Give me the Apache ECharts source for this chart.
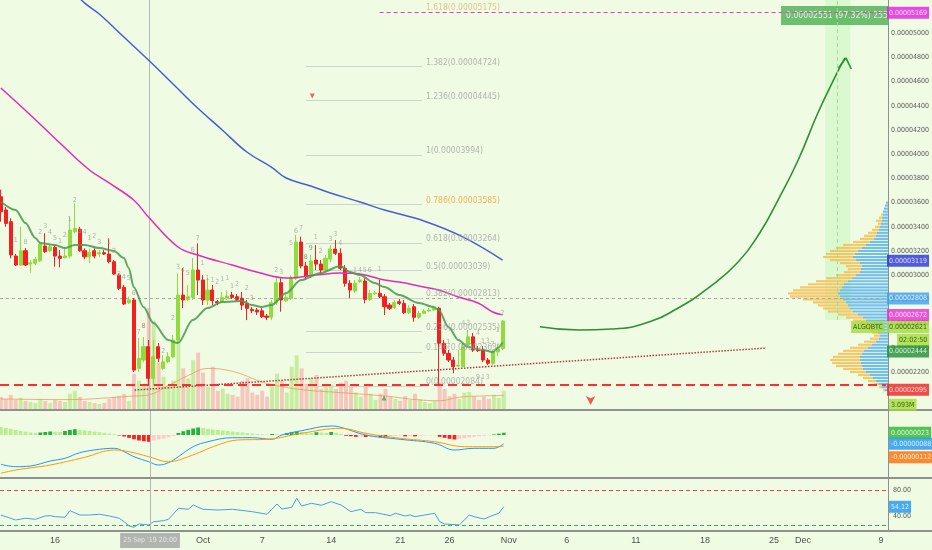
<!DOCTYPE html>
<html>
<head>
<meta charset="utf-8">
<script src="https://cdn.jsdelivr.net/npm/echarts@6.0.0/dist/echarts.min.js"></script>
<style>
html,body{margin:0;padding:0;background:#f0fbe3;}
#chart{width:932px;height:550px;}
</style>
</head>
<body>
<div id="chart"></div>
<script>
const BG = '#f0fbe3';
const FN = "'Liberation Sans Narrow','Arial Narrow','DejaVu Sans Condensed',sans-serif";
const FS = "'Liberation Sans',Arial,sans-serif";

// ---- 12h candles of ALGOBTC (prices in satoshi = 1e-8 BTC), bar 0 = 10 Sep 2019 12:00 ----
const candleOpen = [3648,3539,3442,3158,3084,3202,3092,3098,3119,3241,3202,3230,3158,3144,3158,3359,3379,3202,3152,3202,3175,3186,3175,3111,3001,2900,2772,2795,2230,2299,2409,2148,2409,2230,2285,2326,2464,2836,2800,2817,3043,2960,2795,2877,2781,2781,2809,2836,2822,2809,2767,2718,2712,2706,2662,2652,2772,2938,2789,2809,2974,3274,3076,3001,3125,3092,3043,3133,3216,3181,3057,2933,2869,2946,2952,2800,2847,2850,2822,2753,2734,2781,2767,2690,2739,2652,2685,2704,2712,2726,2437,2354,2299,2249,2243,2423,2491,2387,2387,2299,2272,2365,2395];
const candleClose = [3524,3428,3167,3084,3202,3084,3103,3131,3257,3194,3235,3158,3139,3158,3373,3387,3202,3152,3189,3158,3186,3175,3111,3010,2891,2762,2795,2216,2313,2409,2148,2326,2313,2285,2326,2464,2836,2795,2822,3043,2960,2795,2877,2789,2772,2817,2828,2817,2800,2753,2726,2706,2696,2657,2652,2772,2938,2795,2817,2982,3274,3076,2987,3117,3092,3043,3139,3216,3181,3057,2933,2877,2933,2960,2800,2850,2853,2822,2739,2726,2772,2767,2690,2726,2652,2685,2704,2712,2726,2437,2354,2299,2243,2257,2409,2491,2381,2376,2299,2272,2367,2387,2621];
const candleLow = [3442,3400,3139,3076,3076,3076,3020,3084,3109,3183,3191,3070,3065,3139,3139,3346,3194,3131,3098,3139,3152,3167,3098,3001,2877,2753,2762,2200,2202,2282,2090,2088,2282,2216,2274,2315,2439,2729,2786,2795,2836,2753,2753,2753,2753,2770,2795,2803,2778,2712,2629,2687,2671,2646,2629,2629,2753,2698,2778,2795,2960,3057,2960,2976,3043,3001,3026,3109,3167,3043,2905,2809,2853,2935,2767,2786,2836,2811,2671,2712,2720,2753,2679,2679,2615,2638,2679,2696,2704,2084,2332,2282,2189,2241,2241,2406,2365,2365,2282,2257,2257,2332,2381];
const candleHigh = [3704,3563,3470,3175,3400,3224,3125,3150,3276,3346,3249,3249,3208,3235,3483,3594,3400,3222,3222,3222,3208,3208,3305,3125,3015,2919,2822,2811,2481,2489,2464,2464,2439,2340,2365,2505,3015,3059,2919,3142,3263,3001,2976,2919,2795,2861,2877,2861,2844,2861,2795,2737,2729,2729,2679,2795,2987,2976,2844,3001,3332,3318,3109,3167,3249,3125,3167,3249,3290,3222,3084,2960,2960,2985,2976,2877,2869,2960,2844,2770,2795,2803,2795,2753,2762,2704,2720,2729,2745,2739,2464,2381,2324,2381,2439,2547,2522,2414,2414,2315,2381,2431,2629];
// volume in millions
const volumeM = [2.06,1.72,2.41,1.55,1.89,1.38,1.2,1.03,1.72,1.38,1.03,1.55,1.38,1.2,2.58,3.1,2.06,1.38,1.2,1.03,0.86,1.03,1.72,2.06,2.24,2.58,1.38,6.0,4.8,4.3,17.2,15.0,7.9,5.5,4.1,4.8,11.7,6.9,5.2,8.3,9.6,6.2,3.8,7.2,3.1,3.4,2.6,2.4,2.1,4.8,5.2,2.8,2.4,3.1,2.1,3.8,6.0,4.8,2.8,7.2,9.1,6.9,4.3,5.2,5.8,3.4,3.8,4.1,3.4,4.5,4.8,3.8,2.8,2.1,4.1,2.6,1.55,2.6,3.4,2.1,1.7,1.4,2.2,1.55,2.6,1.7,1.2,1.0,1.4,4.5,3.4,2.2,2.6,1.7,2.8,2.9,2.2,1.55,2.1,1.7,2.4,1.9,3.093];
const volumeMA = [[0,1.7],[13,1.6],[27,2.2],[30,2.4],[34,4.0],[38,5.7],[42,6.9],[47,6.4],[53,4.6],[57,3.8],[62,3.2],[67,2.9],[78,2.2],[84,1.6],[89,1.4],[93,2.0],[97,2.2],[102,2.3]];

// moving averages: [bar, price]
const blueMA = [[14,5373],[17,5250],[20,5158],[25,4968],[30,4778],[35,4580],[40,4381],[45,4200],[50,4018],[55,3894],[58,3803],[63,3737],[67,3679],[73,3605],[78,3538],[86,3448],[94,3315],[102,3125]];
const magentaMA = [[0,4547],[6,4324],[12,4092],[18,3869],[22,3762],[27,3621],[30,3481],[36,3233],[40,3167],[47,3084],[52,3026],[58,2976],[64,3001],[69,3018],[73,3010],[78,2960],[81,2943],[86,2902],[89,2877],[93,2820],[97,2770],[100,2696],[102,2672]];
const greenEMA = [[0,3607],[3,3539],[5,3431],[7,3307],[8,3266],[11,3249],[13,3224],[15,3249],[17,3249],[20,3224],[23,3200],[25,3142],[26,3059],[27,2902],[29,2737],[31,2605],[34,2464],[36,2439],[39,2629],[42,2729],[45,2778],[49,2786],[51,2753],[53,2737],[55,2753],[58,2853],[61,2960],[65,3018],[69,3076],[71,3026],[73,3001],[76,2935],[78,2902],[81,2836],[85,2770],[88,2737],[89,2712],[91,2572],[93,2464],[95,2406],[98,2381],[100,2365],[101,2398],[102,2444]];

// sequential counter digits printed around the candles: bar, price, digit
const countBar   = [0,3,5,8,9,10,11,12,13,14,15,16,17,18,19,20,22,23,24,25,26,27,28,29,33,35,36,37,38,39,40,41,42,43,44,45,46,47,48,50,51,56,57,59,60,61,62,63,64,65,67,68,69,72,73,74,75,77,91,94,95,97,98,99,100,101,102,97,98,99];
const countPrice = [3687,3291,3274,3357,3406,3357,3307,3282,3332,3464,3621,3365,3357,3307,3324,3274,3274,3200,3010,2985,2977,2853,2530,2580,2373,2646,3067,3043,3018,3208,3307,3101,2977,2960,2943,2968,2977,2910,2927,2894,2811,3043,3026,3266,3365,3390,3150,3224,3315,3200,3299,3340,3266,3043,3043,3043,3043,3051,2448,2605,2605,2522,2456,2456,2431,2547,2687,2158,2158,2158];
const countText  = ['1','1','8','2','3','4','5','1','2','1','2','3','4','1','2','3','1','2','3','4','5','6','7','8','2','2','3','4','5','6','7','1','1','1','2','1','1','1','2','2','3','2','3','5','6','7','8','9','1','2','3','3','4','1','4','5','6','1','1','4','3','4','1','3','2','1','2','9','1','3'];
const countColor = k => (countText[k] === '8' && countBar[k] === 29) ? '#e04848' : ((countBar[k] === 62 || countBar[k] === 63) ? '#3a9e48' : '#a0a0a0');

// MACD (satoshi)
const macdHist = [80,72,62,50,40,32,25,20,25,30,35,33,30,40,50,58,50,45,40,34,28,22,15,8,-5,-15,-28,-42,-55,-62,-68,-55,-45,-35,-22,-10,20,38,52,65,75,70,62,56,50,45,40,35,30,25,20,15,10,6,3,10,8,5,18,28,35,30,25,22,28,24,20,30,22,12,-8,-12,-18,-15,-20,-18,-16,-22,-25,-15,-10,-6,-14,-10,-14,-8,-5,-4,-3,-18,-28,-38,-45,-38,-30,-22,-18,-12,-8,-5,6,14,23];
const macdLine = [[0,-293],[3,-317],[6,-310],[10,-260],[13,-233],[16,-177],[20,-143],[23,-133],[25,-167],[27,-217],[30,-267],[32,-300],[34,-277],[36,-217],[39,-117],[42,-67],[47,-27],[51,-27],[55,-43],[57,0],[61,43],[67,90],[69,77],[74,0],[81,-43],[88,-83],[92,-150],[96,-133],[100,-133],[102,-88]];
const signalLine = [[0,-383],[3,-350],[10,-300],[17,-223],[23,-150],[26,-167],[30,-217],[34,-267],[38,-217],[44,-100],[48,-50],[54,-43],[61,17],[69,67],[74,17],[81,-33],[88,-67],[94,-117],[101,-117],[102,-112]];
// RSI
const rsiLine = [[0,41.5],[3,33.8],[5,36.5],[7,34.9],[9,40],[10,40.5],[11,38.9],[13,38],[14,48.2],[16,41.5],[18,41.5],[20,42.6],[22,40],[24,36.5],[25,31.2],[26,24.6],[27,22.6],[28,27.7],[30,26.2],[31,31.2],[33,32.8],[34,34.9],[36,51.8],[38,50.3],[39,56.9],[41,50.3],[44,49.2],[47,50.3],[51,46.6],[54,42.6],[56,58.5],[57,50.8],[59,53.4],[60,67.2],[61,55.4],[63,59.5],[65,56.5],[67,62],[69,56.9],[71,46.6],[73,50.3],[74,45.1],[76,45.1],[79,40.5],[80,44.2],[82,40],[83,41.5],[84,38.9],[86,41.5],[88,44.2],[89,31.2],[90,27.7],[93,26.2],[95,41.5],[96,38.9],[98,35.4],[100,41.5],[101,44.2],[102,54.12]];

// axis ticks
const priceTicks = [2200,2400,2600,2800,3000,3200,3400,3600,3800,4000,4200,4400,4600,4800,5000];
const rsiTicks = [40,80];
const rsiBands = [80,25];
const xTickPos = [11,41,53,67,81,91,103,114.8,128.8,142.8,156.8,162.7,178.5];
const xTickText = ['16','Oct','7','14','21','26','Nov','6','11','18','25','Dec','9'];

// fibonacci retracement
const fibLevels = ['1.618','1.382','1.236','1','0.786','0.618','0.5','0.382','0.236','0.146','0'];
const fibPrices = [5175,4724,4445,3994,3585,3264,3039,2813,2535,2363,2084];
const fibFrom = 62, fibTo = 85.6, fibLabelAt = 86.4;

// volume profile (bins from profileBase, step profileStep)
const profileBase = 2050, profileStep = 25;
const profileUp = [3,6,9,12,15,18,22,25,26,27,28,28,26,24,20,16,12,9,8,10,12,15,18,22,25,30,35,38,40,42,45,48,50,48,46,44,40,36,32,28,27,26,28,32,35,33,30,26,22,18,14,12,11,9,8,7,6,6,5,5,4,3,2];
const profileDown = [2,3,5,8,10,12,16,20,26,29,30,27,24,21,18,14,12,9,6,6,8,10,12,13,17,20,25,27,30,33,40,50,50,47,42,36,32,26,20,16,13,16,20,26,30,29,28,26,23,17,14,12,9,7,5,3,6,3,2,0,0,0,0];

// drawings
const supportPrice = 2095, targetPrice = 5169, crossPrice = 2808;
const targetFrom = 77;
const crossIndex = 30.25, crossLabel = "25 Sep '19 20:00";
const trendLine = [[27.2,2051],[155.6,2398]];
const arrowPath = [[109.6,2574],[117.5,2547],[124.2,2555],[131.1,2605],[137.7,2729],[143.8,2894],[149.9,3109],[154.4,3357],[158,3621],[162.1,3952],[166.1,4340],[169.6,4638],[171.6,4795]];
const arrowHead = [[170.3,4712],[171.8,4795],[172.9,4704]];
const bandFrom = 167.6, bandTo = 172.7, bandBottom = 2629, bandCenter = 170.1;
const projectionText = '0.00002551 (97.32%) 2551';
const projectionAnchor = [158.6, 5146];
const markerDown = [63.3, 4481], markerUp = [77.9, 1985], markerArrow = [119.9, 1927];

// last values
const lastPrice = 2621, blueLast = 3119, magentaLast = 2672, emaLast = 2444;
const macdTags = [23, -88, -112];
const rsiLast = 54.12, volLast = 3.093;
const symbolName = 'ALGOBTC', countdown = '02:02:50';

// axis extents (layout of the TradingView panes)
const X_MIN = -0.18, X_MAX = 179.94;
const P_MIN = 1886, P_MAX = 5274;
const V_MAX = 18.7;
const M_MIN = -430, M_MAX = 240;
const R_MIN = 16.9, R_MAX = 96.9;

const fmtP = v => (v / 1e8).toFixed(8);
const bars = candleOpen.map((o, i) => [i, o, candleClose[i], candleLow[i], candleHigh[i]]);
const isUp = i => candleClose[i] >= candleOpen[i];

function tag(x, y, text, bg, fg, opts) {
  opts = opts || {};
  return {
    value: [x, y],
    label: {
      show: true, position: opts.pos || 'right', distance: opts.dist != null ? opts.dist : 1,
      formatter: text, backgroundColor: bg, color: fg, fontSize: opts.fs || 7,
      fontFamily: FN, padding: opts.pad || [2, 2, 1, 2], lineHeight: opts.lh || 9,
      offset: [0, opts.dy || 0]
    }
  };
}
const tagSeries = (xi, yi, data, z) => ({
  type: 'scatter', xAxisIndex: xi, yAxisIndex: yi, symbolSize: 0.1, silent: true,
  itemStyle: { color: 'transparent' }, z: z || 10, data
});

const hLine = (x1, x2, y, style) => [{ coord: [x1, y], lineStyle: style }, { coord: [x2, y] }];

const mainMarkLines = [
  hLine(X_MIN, X_MAX, crossPrice, { color: '#a9a9a9', width: 1, type: [3, 3] }),
  hLine(X_MIN, X_MAX, supportPrice, { color: '#ff2d2d', width: 2, type: [9, 5] }),
  hLine(targetFrom, X_MAX, targetPrice, { color: '#e040c8', width: 1, type: [4, 3] }),
  [{ coord: [crossIndex, P_MIN], lineStyle: { color: '#b8b8b8', width: 1, type: 'solid' } }, { coord: [crossIndex, P_MAX] }]
];
fibPrices.forEach((p, k) => {
  if (fibLevels[k] !== '1.618') mainMarkLines.push(hLine(fibFrom, fibTo, p, { color: '#cfd4c8', width: 1, type: 'solid' }));
});

const fibColor = lvl => lvl === '0.786' ? '#f0a033' : (lvl === '1.618' ? '#e6b47a' : '#a3a3a3');

const xBase = { type: 'value', min: X_MIN, max: X_MAX, show: false };

const option = {
  backgroundColor: BG,
  animation: false,
  grid: [
    { left: 0, right: 44, top: 0, height: 410 },
    { left: 0, right: 44, top: 299, height: 110 },
    { left: 780, right: 44, top: 0, height: 410 },
    { left: 0, right: 44, top: 411, height: 67 },
    { left: 0, right: 44, top: 479, height: 52 }
  ],
  xAxis: [
    Object.assign({ gridIndex: 0 }, xBase),
    Object.assign({ gridIndex: 1 }, xBase),
    { gridIndex: 2, type: 'value', min: 0, max: 108, inverse: true, show: false },
    Object.assign({ gridIndex: 3 }, xBase),
    {
      gridIndex: 4, type: 'value', min: X_MIN, max: X_MAX,
      axisLine: { show: false }, splitLine: { show: false },
      axisTick: { show: false },
      axisLabel: {
        customValues: xTickPos, margin: 5, color: '#4f4f4f', fontSize: 9, fontFamily: FS,
        formatter: v => { const k = xTickPos.findIndex(t => Math.abs(t - v) < 1e-6); return k >= 0 ? xTickText[k] : ''; }
      }
    }
  ],
  yAxis: [
    {
      gridIndex: 0, type: 'value', position: 'right', min: P_MIN, max: P_MAX,
      axisLine: { show: false }, splitLine: { show: false }, axisTick: { show: false },
      axisLabel: { customValues: priceTicks, formatter: v => fmtP(v), color: '#5a5a5a', fontSize: 7, fontFamily: FN, margin: 5 }
    },
    { gridIndex: 1, type: 'value', min: 0, max: V_MAX, show: false },
    { gridIndex: 2, type: 'value', min: P_MIN, max: P_MAX, show: false },
    { gridIndex: 3, type: 'value', min: M_MIN, max: M_MAX, show: false },
    {
      gridIndex: 4, type: 'value', position: 'right', min: R_MIN, max: R_MAX,
      axisLine: { show: false }, splitLine: { show: false }, axisTick: { show: false },
      axisLabel: { customValues: rsiTicks, formatter: v => v.toFixed(2), color: '#5a5a5a', fontSize: 7, fontFamily: FN, margin: 5 }
    }
  ],
  graphic: [
    { type: 'rect', shape: { x: 889, y: 0, width: 43, height: 29 }, style: { fill: BG }, z: 4 },
    { type: 'line', shape: { x1: 888.5, y1: 0, x2: 888.5, y2: 531 }, style: { stroke: '#8f8f8f', lineWidth: 1 }, z: 6 },
    { type: 'line', shape: { x1: 0, y1: 410, x2: 932, y2: 410 }, style: { stroke: '#909090', lineWidth: 2 }, z: 6 },
    { type: 'line', shape: { x1: 0, y1: 478, x2: 932, y2: 478 }, style: { stroke: '#909090', lineWidth: 2 }, z: 6 },
    { type: 'line', shape: { x1: 0, y1: 531, x2: 932, y2: 531 }, style: { stroke: '#909090', lineWidth: 2 }, z: 6 }
  ],
  series: [
    // volume
    {
      type: 'bar', xAxisIndex: 1, yAxisIndex: 1, barWidth: 4, z: 1, silent: true,
      data: volumeM.map((v, i) => [i, v]),
      itemStyle: { color: p => isUp(p.dataIndex) ? '#c7eea0' : '#f6c7bd' }
    },
    {
      type: 'line', xAxisIndex: 1, yAxisIndex: 1, data: volumeMA, smooth: 0.4, symbol: 'none', z: 2, silent: true,
      lineStyle: { color: 'rgba(238,150,80,0.75)', width: 1 }
    },
    // volume profile
    {
      type: 'custom', xAxisIndex: 2, yAxisIndex: 2, z: 3, silent: true,
      data: profileUp.map((u, k) => [u, profileBase + k * profileStep, profileDown[k]]),
      encode: { x: 0, y: 1 },
      renderItem: (params, api) => {
        const up = api.value(0), p = api.value(1), dn = api.value(2);
        const yT = api.coord([0, p + profileStep * 0.36])[1];
        const yB = api.coord([0, p - profileStep * 0.36])[1];
        const x0 = api.coord([0, p])[0];
        const x1 = api.coord([up, p])[0];
        const x2 = api.coord([up + dn, p])[0];
        return { type: 'group', children: [
          { type: 'rect', shape: { x: x1, y: yT, width: x0 - x1, height: yB - yT }, style: { fill: 'rgba(84,176,238,0.8)' } },
          { type: 'rect', shape: { x: x2, y: yT, width: x1 - x2, height: yB - yT }, style: { fill: 'rgba(246,190,82,0.85)' } }
        ] };
      }
    },
    // candles
    {
      type: 'candlestick', xAxisIndex: 0, yAxisIndex: 0, data: bars, encode: { x: 0, y: [1, 2, 3, 4] },
      barWidth: 3.6, z: 5, silent: true,
      itemStyle: { color: '#8fdc3c', color0: '#f2201f', borderColor: '#8fdc3c', borderColor0: '#f2201f', borderWidth: 1 },
      markLine: { silent: true, symbol: ['none', 'none'], label: { show: false }, data: mainMarkLines }
    },
    { type: 'line', xAxisIndex: 0, yAxisIndex: 0, data: blueMA, smooth: 0.4, symbol: 'none', z: 6, silent: true, lineStyle: { color: '#4c5bd4', width: 1.5 } },
    { type: 'line', xAxisIndex: 0, yAxisIndex: 0, data: magentaMA, smooth: 0.4, symbol: 'none', z: 6, silent: true, lineStyle: { color: '#e52ab9', width: 1.5 } },
    { type: 'line', xAxisIndex: 0, yAxisIndex: 0, data: greenEMA, smooth: 0.3, smoothMonotone: 'x', symbol: 'none', z: 6, silent: true, lineStyle: { color: 'rgba(70,150,80,0.85)', width: 2 } },
    // counter digits
    {
      type: 'scatter', xAxisIndex: 0, yAxisIndex: 0, symbolSize: 0.1, itemStyle: { color: 'transparent' }, z: 7, silent: true,
      label: { show: true, position: 'inside', fontSize: 7, fontFamily: FN },
      data: countBar.map((b, k) => ({ value: [b, countPrice[k]], label: { formatter: countText[k], color: countColor(k) } }))
    },
    // trend line
    { type: 'line', xAxisIndex: 0, yAxisIndex: 0, data: trendLine, symbol: 'none', z: 4, silent: true, lineStyle: { color: '#b03a3a', width: 1.5, type: 'dotted' } },
    // projection arrow + band
    {
      type: 'line', xAxisIndex: 0, yAxisIndex: 0, data: arrowPath, smooth: 0.5, symbol: 'none', z: 4, silent: true,
      lineStyle: { color: '#2f8f33', width: 1.6 },
      markArea: { silent: true, itemStyle: { color: 'rgba(200,248,190,0.55)' }, data: [[{ coord: [bandFrom, bandBottom] }, { coord: [bandTo, P_MAX] }]] },
      markLine: { silent: true, symbol: ['none', 'none'], label: { show: false },
        data: [[{ coord: [bandCenter, bandBottom], lineStyle: { color: '#a6d9a0', width: 1, type: [4, 3] } }, { coord: [bandCenter, P_MAX] }]] }
    },
    { type: 'line', xAxisIndex: 0, yAxisIndex: 0, data: arrowHead, symbol: 'none', z: 4, silent: true, lineStyle: { color: '#2f8f33', width: 1.6 } },
    // fib labels
    {
      type: 'scatter', xAxisIndex: 0, yAxisIndex: 0, symbolSize: 0.1, itemStyle: { color: 'transparent' }, z: 7, silent: true,
      label: { show: true, position: 'right', distance: 0, fontSize: 8.5, fontFamily: FN, offset: [0, -4] },
      data: fibPrices.map((p, k) => ({ value: [fibLabelAt, p], label: { formatter: fibLevels[k] + '(' + fmtP(p) + ')', color: fibColor(fibLevels[k]) } }))
    },
    // projection label
    tagSeries(0, 0, [tag(projectionAnchor[0], projectionAnchor[1], projectionText, '#4caf50', '#ffffff', { dist: 0, fs: 8.6, lh: 11, pad: [4, 4, 4, 5] })], 3),
    // small markers
    { type: 'scatter', xAxisIndex: 0, yAxisIndex: 0, silent: true, z: 7, symbol: 'triangle', symbolRotate: 180, symbolSize: 5, itemStyle: { color: '#f04040' }, data: [markerDown] },
    { type: 'scatter', xAxisIndex: 0, yAxisIndex: 0, silent: true, z: 7, symbol: 'triangle', symbolSize: 5, itemStyle: { color: '#3aa64a' }, data: [markerUp] },
    { type: 'scatter', xAxisIndex: 0, yAxisIndex: 0, silent: true, z: 7, symbol: 'arrow', symbolRotate: 180, symbolSize: [7, 9], itemStyle: { color: '#f03030' }, data: [markerArrow] },
    // price tags
    tagSeries(0, 0, [
      tag(X_MAX, targetPrice, fmtP(targetPrice), '#e21ee0', '#ffffff'),
      tag(X_MAX, blueLast, fmtP(blueLast), '#2733d6', '#ffffff'),
      tag(X_MAX, crossPrice, fmtP(crossPrice), '#3c9ff0', '#ffffff'),
      tag(X_MAX, magentaLast, fmtP(magentaLast), '#ec2bd0', '#ffffff'),
      tag(X_MAX, lastPrice, fmtP(lastPrice), '#a4dc3a', '#1f330b', { dy: 6 }),
      tag(X_MAX, lastPrice, symbolName, '#a4dc3a', '#1f330b', { pos: 'left', dy: 6 }),
      tag(X_MAX, lastPrice, countdown, '#a4dc3a', '#1f330b', { dist: 11, dy: 19 }),
      tag(X_MAX, emaLast, fmtP(emaLast), '#1f8f35', '#ffffff', { dy: 9 }),
      tag(X_MAX, supportPrice, fmtP(supportPrice), '#ef2020', '#ffffff', { dy: 5 })
    ]),
    tagSeries(1, 1, [tag(X_MAX, volLast, volLast.toFixed(3) + 'M', '#a4dc3a', '#1f330b', { dy: 14 })]),
    // MACD
    {
      type: 'bar', xAxisIndex: 3, yAxisIndex: 3, barWidth: 3.8, silent: true, z: 2,
      data: macdHist.map((v, i) => [i, v]),
      itemStyle: { color: p => {
        const i = p.dataIndex, v = macdHist[i], pv = i > 0 ? macdHist[i - 1] : v;
        if (v >= 0) return v > pv ? '#25b23c' : '#b9ef8e';
        return v < pv ? '#ff1f1f' : '#ffcaca';
      } }
    },
    {
      type: 'line', xAxisIndex: 3, yAxisIndex: 3, data: macdLine, smooth: 0.4, symbol: 'none', silent: true, z: 3,
      lineStyle: { color: '#2196f3', width: 1 },
      markLine: { silent: true, symbol: ['none', 'none'], label: { show: false },
        data: [[{ coord: [crossIndex, M_MIN], lineStyle: { color: '#b8b8b8', width: 1, type: 'solid' } }, { coord: [crossIndex, M_MAX] }]] }
    },
    { type: 'line', xAxisIndex: 3, yAxisIndex: 3, data: signalLine, smooth: 0.4, symbol: 'none', silent: true, z: 3, lineStyle: { color: '#ff9800', width: 1 } },
    tagSeries(3, 3, [
      tag(X_MAX, macdTags[0], fmtP(macdTags[0]), '#2cb52f', '#ffffff'),
      tag(X_MAX, macdTags[1], '-' + fmtP(-macdTags[1]), '#2196f3', '#ffffff'),
      tag(X_MAX, macdTags[2], '-' + fmtP(-macdTags[2]), '#ff6d00', '#ffffff', { dy: 11 })
    ]),
    // RSI
    {
      type: 'line', xAxisIndex: 4, yAxisIndex: 4, data: rsiLine, symbol: 'none', silent: true, z: 3,
      lineStyle: { color: '#4a9fe0', width: 1 },
      markLine: { silent: true, symbol: ['none', 'none'], label: { show: false },
        data: [
          hLine(X_MIN, X_MAX, rsiBands[0], { color: '#e64848', width: 1, type: [4, 3] }),
          hLine(X_MIN, X_MAX, rsiBands[1], { color: '#3fa66b', width: 1, type: [4, 3] }),
          [{ coord: [crossIndex, R_MIN], lineStyle: { color: '#b8b8b8', width: 1, type: 'solid' } }, { coord: [crossIndex, R_MAX] }]
        ] }
    },
    tagSeries(4, 4, [
      tag(X_MAX, rsiLast, rsiLast.toFixed(2), '#2196f3', '#ffffff'),
      tag(crossIndex, R_MIN, crossLabel, '#a2a2a2', '#f4f4f4', { pos: 'bottom', dist: 2, pad: [3, 3, 3, 3] })
    ])
  ]
};

const chart = echarts.init(document.getElementById('chart'), null, { renderer: 'canvas' });
chart.setOption(option);
</script>
</body>
</html>
